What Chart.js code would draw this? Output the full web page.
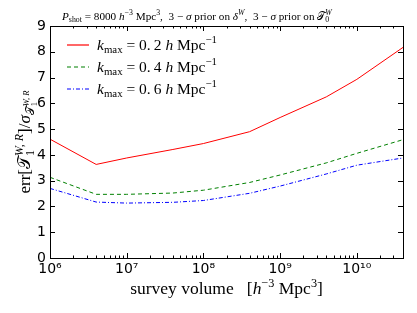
<!DOCTYPE html>
<html>
<head>
<meta charset="utf-8">
<script src="https://cdn.jsdelivr.net/npm/chart.js@4"></script>
<style>
  html, body { margin: 0; padding: 0; background: #fff; }
  #wrap { width: 417px; height: 313px; }
</style>
</head>
<body>
<div id="wrap"><canvas id="errChart" width="417" height="313"></canvas></div>
<script>
// survey volumes (h^-3 Mpc^3) and forecast error ratios
const volumes = [1e6, 4e6, 1e7, 4e7, 1e8, 4e8, 1e9, 4e9, 1e10, 4e10];
const errK02 = [4.61, 3.63, 3.88, 4.21, 4.44, 4.90, 5.45, 6.25, 6.93, 8.17];
const errK04 = [3.13, 2.47, 2.47, 2.52, 2.63, 2.93, 3.22, 3.69, 4.06, 4.59];
const errK06 = [2.70, 2.17, 2.13, 2.16, 2.23, 2.51, 2.79, 3.26, 3.60, 3.88];

const seriesNames = ['0.\u20092', '0.\u20094', '0.\u20096'];
const xTickValues = [1e6, 1e7, 1e8, 1e9, 1e10];
const xTickLabels = ['10\u2076', '10\u2077', '10\u2078', '10\u2079', '10\u00b9\u2070'];
const yTicks = [0, 1, 2, 3, 4, 5, 6, 7, 8, 9];

const lineColors = ['#ff0000', '#008000', '#0000ff'];
const lineDashes = [[], [4, 3], [4, 2, 1, 2]];

const SERIF = '"Liberation Serif", "DejaVu Serif", serif';
const SANS = '"DejaVu Sans", sans-serif';

function toPoints(values) {
    return values.map((v, i) => ({ x: volumes[i], y: v }));
}

// draw a list of text pieces with simple sub/superscript offsets
function drawRich(ctx, segs, x, y, base, align) {
    let widths = [], total = 0, kept = 0;
    segs.forEach(s => {
        ctx.font = (s.i ? 'italic ' : '') + (base * (s.s || 1)) + 'px ' + SERIF;
        const w = ctx.measureText(s.t).width;
        widths.push(w);
        if (s.keep) { kept = w; }
        else { total += Math.max(w, kept); kept = 0; }
    });
    let cx = align === 'center' ? x - total / 2 : x;
    kept = 0;
    ctx.textBaseline = 'alphabetic';
    ctx.textAlign = 'left';
    ctx.fillStyle = '#000';
    segs.forEach((s, i) => {
        ctx.font = (s.i ? 'italic ' : '') + (base * (s.s || 1)) + 'px ' + SERIF;
        ctx.fillText(s.t, cx, y + (s.dy || 0) * base);
        if (s.keep) { kept = widths[i]; }
        else { cx += Math.max(widths[i], kept); kept = 0; }
    });
}

const SUP = { s: 0.7, dy: -0.42 };
const SUB = { s: 0.7, dy: 0.22 };

const decorPlugin = {
    id: 'decor',
    afterDraw(chart) {
        const ctx = chart.ctx;
        const a = chart.chartArea;
        const xs = chart.scales.x, ys = chart.scales.y;
        ctx.save();
        ctx.strokeStyle = '#000';
        ctx.lineWidth = 1;
        ctx.strokeRect(Math.round(a.left) + 0.5, Math.round(a.top) + 0.5,
            Math.round(a.right - a.left), Math.round(a.bottom - a.top));

        ctx.beginPath();
        // x ticks on bottom and top, inward
        for (let d = 6; d <= 10; d++) {
            for (let m = 1; m <= 9; m++) {
                const v = m * Math.pow(10, d);
                if (v > xs.max) break;
                const px = Math.round(xs.getPixelForValue(v)) + 0.5;
                const len = m === 1 ? 5 : 2.5;
                ctx.moveTo(px, a.bottom); ctx.lineTo(px, a.bottom - len);
                ctx.moveTo(px, a.top); ctx.lineTo(px, a.top + len);
            }
        }
        // y ticks on left and right, inward
        yTicks.forEach(t => {
            const py = Math.round(ys.getPixelForValue(t)) + 0.5;
            ctx.moveTo(a.left, py); ctx.lineTo(a.left + 5, py);
            ctx.moveTo(a.right, py); ctx.lineTo(a.right - 5, py);
        });
        ctx.stroke();

        // title
        drawRich(ctx, [
            { t: 'P', i: true }, Object.assign({ t: 'shot' }, SUB),
            { t: ' = 8000 ' }, { t: 'h', i: true }, Object.assign({ t: '\u22123' }, SUP),
            { t: ' Mpc' }, Object.assign({ t: '3' }, SUP),
            { t: ',  3 \u2212 ' }, { t: '\u03c3', i: true }, { t: ' prior on ' },
            { t: '\u03b4', i: true }, Object.assign({ t: 'W', i: true }, SUP),
            { t: ',  3 \u2212 ' }, { t: '\u03c3', i: true }, { t: ' prior on ' },
            { t: '\ud835\udcaf' }, Object.assign({ t: 'W', i: true, keep: true }, SUP),
            Object.assign({ t: '0' }, SUB)
        ], 62, 20, 11.2, 'left');

        // x axis title
        drawRich(ctx, [
            { t: 'survey volume   [' }, { t: 'h', i: true },
            Object.assign({ t: '\u22123' }, SUP), { t: ' Mpc' },
            Object.assign({ t: '3' }, SUP), { t: ']' }
        ], (a.left + a.right) / 2, 294, 17.5, 'center');

        // y axis title (rotated)
        ctx.save();
        ctx.translate(30, (a.top + a.bottom) / 2);
        ctx.rotate(-Math.PI / 2);
        drawRich(ctx, [
            { t: 'err[' }, { t: '\ud835\udcaf' },
            Object.assign({ t: 'W, R', i: true, keep: true }, SUP),
            Object.assign({ t: '1' }, SUB),
            { t: ']/' }, { t: '\u03c3', i: true },
            { t: '\ud835\udcaf', s: 0.7, dy: 0.25 },
            { t: 'W, R', i: true, s: 0.5, dy: -0.05, keep: true },
            { t: '1', s: 0.5, dy: 0.4 }
        ], 0, 0, 17, 'center');
        ctx.restore();

        // legend
        const rows = [45, 67, 89];
        lineColors.forEach((color, i) => {
            ctx.save();
            ctx.beginPath();
            ctx.lineWidth = 1.2;
            ctx.strokeStyle = color;
            ctx.setLineDash(lineDashes[i]);
            ctx.moveTo(67, rows[i]);
            ctx.lineTo(89, rows[i]);
            ctx.stroke();
            ctx.restore();
            drawRich(ctx, [
                { t: 'k', i: true }, Object.assign({ t: 'max' }, SUB),
                { t: ' = ' + seriesNames[i] + ' ' }, { t: 'h', i: true },
                { t: ' Mpc' }, Object.assign({ t: '\u22121' }, SUP)
            ], 97, rows[i] + 5, 15.5, 'left');
        });
        ctx.restore();
    }
};

const seriesValues = [errK02, errK04, errK06];

new Chart(document.getElementById('errChart').getContext('2d'), {
    type: 'line',
    data: {
        datasets: seriesValues.map((vals, i) => ({
            label: 'kmax = ' + seriesNames[i],
            data: toPoints(vals),
            borderColor: lineColors[i],
            borderWidth: 1,
            borderDash: lineDashes[i],
            pointRadius: 0,
            fill: false
        }))
    },
    options: {
        responsive: false,
        animation: false,
        layout: { padding: { left: 0, right: 14, top: 26, bottom: 0 } },
        plugins: {
            legend: { display: false },
            tooltip: { enabled: false }
        },
        scales: {
            x: {
                type: 'logarithmic',
                min: 1e6,
                max: 4e10,
                grid: { display: false, drawTicks: false },
                border: { display: false },
                afterBuildTicks: scale => {
                    scale.ticks = xTickValues.map(v => ({ value: v }));
                },
                afterFit: scale => { scale.height = 55; },
                ticks: {
                    autoSkip: false,
                    maxRotation: 0,
                    padding: 3,
                    color: '#000',
                    font: { family: SANS, size: 14 },
                    callback: (value, index) => xTickLabels[index]
                }
            },
            y: {
                min: 0,
                max: 9,
                grid: { display: false, drawTicks: false },
                border: { display: false },
                afterBuildTicks: scale => {
                    scale.ticks = yTicks.map(v => ({ value: v }));
                },
                afterFit: scale => { scale.width = 50; },
                ticks: {
                    padding: 4,
                    color: '#000',
                    font: { family: SANS, size: 14 }
                }
            }
        }
    },
    plugins: [decorPlugin]
});
</script>
</body>
</html>
